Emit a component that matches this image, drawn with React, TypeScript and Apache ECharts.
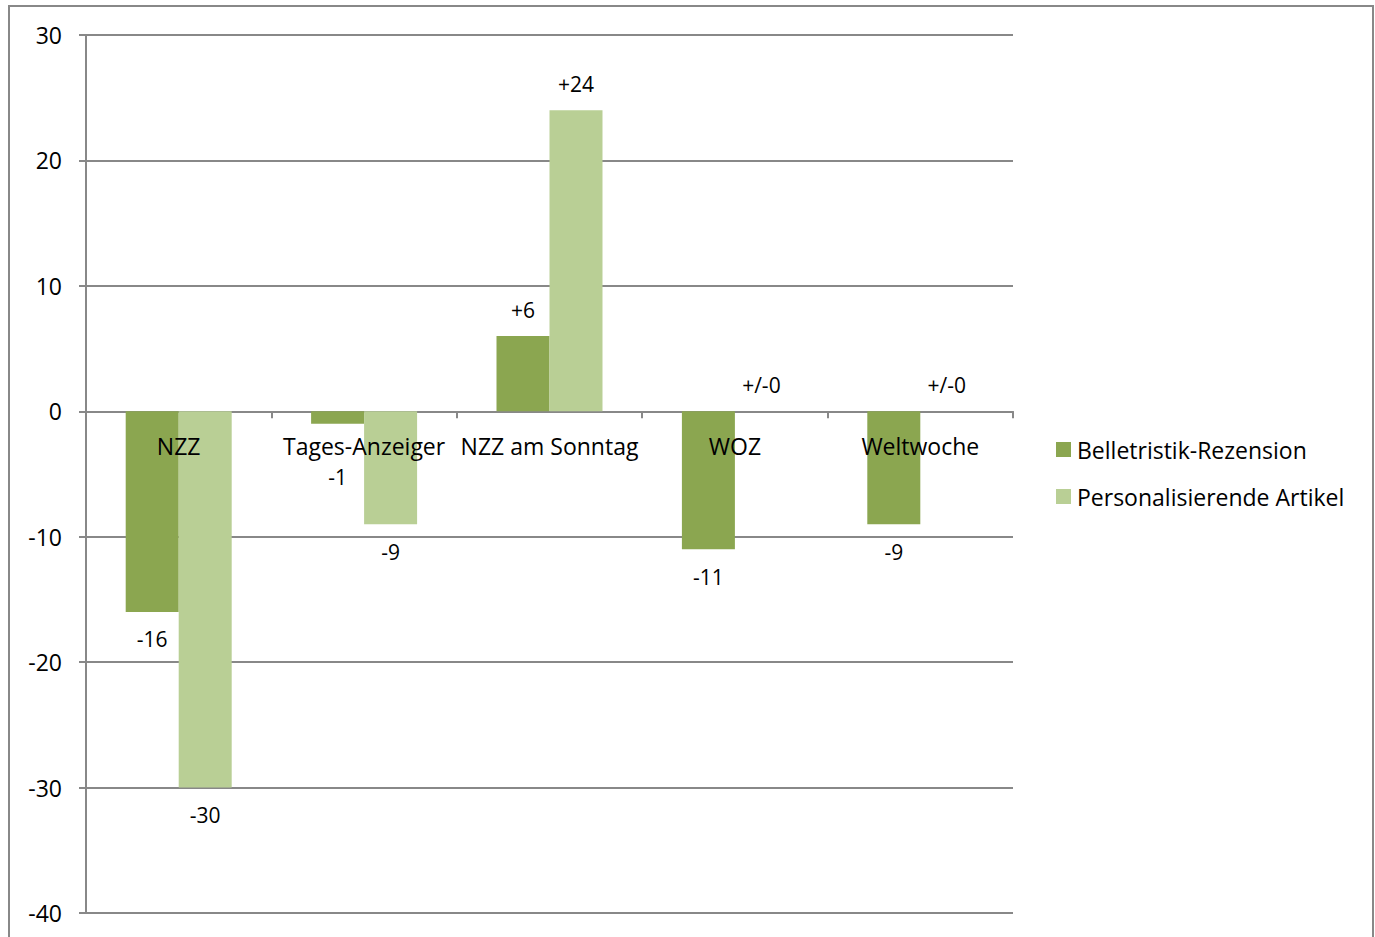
import React, { useEffect, useRef } from "react";
import * as echarts from "echarts";

const categories = ["NZZ", "Tages-Anzeiger", "NZZ am Sonntag", "WOZ", "Weltwoche"];
const belletristik = [-16, -1, 6, -11, -9];
const personalisierend = [-30, -9, 24, 0, 0];
const seriesNames = ["Belletristik-Rezension", "Personalisierende Artikel"];
const yTicks = { min: -40, max: 30, interval: 10 };

const FONT = "'Open Sans', 'Noto Sans', sans-serif";

function fmt(v: number) {
  if (v === 0) return "+/-0";
  return v > 0 ? "+" + v : String(v);
}

function buildData(values: number[], extraDist: number[]) {
  return values.map((v, i) => ({
    value: v,
    label: {
      position: v < 0 ? "bottom" : "top",
      distance: (v < 0 ? 17 : 16) + (extraDist[i] || 0),
    },
  }));
}

export default function App() {
  const ref = useRef<HTMLDivElement>(null);
  useEffect(() => {
    document.body.style.margin = "0";
    if (!ref.current) return;
    const chart = echarts.init(ref.current, null, { renderer: "svg" });
    const labelStyle = {
      show: true,
      color: "#000",
      fontSize: 21,
      fontFamily: FONT,
      formatter: (p: any) => fmt(p.value),
    };
    const gridTop = 35;
    const gridBottom = 24;
    const plotH = 937 - gridTop - gridBottom;
    const zeroY = gridTop + (plotH * yTicks.max) / (yTicks.max - yTicks.min);
    const labelOffset = -(937 - gridBottom - zeroY);
    chart.setOption({
      animation: false,
      backgroundColor: "#fff",
      textStyle: { fontFamily: FONT },
      graphic: [
        {
          type: "rect",
          shape: { x: 9, y: 6, width: 1364, height: 1000 },
          style: { fill: "none", stroke: "#888", lineWidth: 2 },
          silent: true,
        },
      ],
      grid: { left: 86, right: 362, top: gridTop, bottom: gridBottom, outerBoundsMode: "none", containLabel: false },
      legend: {
        orient: "vertical",
        left: 1056,
        top: 438,
        padding: 0,
        itemWidth: 15,
        itemHeight: 15,
        itemGap: 24,
        icon: "rect",
        textStyle: { color: "#000", fontSize: 23, lineHeight: 23, fontFamily: FONT, padding: [0, 0, 0, 1] },
        data: seriesNames,
      },
      xAxis: [
        {
          type: "category",
          data: categories,
          axisLine: { onZero: true, lineStyle: { color: "#888", width: 2 } },
          axisTick: { show: true, length: 7, lineStyle: { color: "#888", width: 2 } },
          axisLabel: { show: false },
          splitLine: { show: false },
        },
        {
          type: "category",
          data: categories,
          position: "bottom",
          offset: labelOffset,
          z: 10,
          axisLine: { show: false, onZero: false },
          axisTick: { show: false },
          axisLabel: { color: "#000", fontSize: 23, fontFamily: FONT, margin: 23, interval: 0 },
          splitLine: { show: false },
        },
      ],
      yAxis: {
        type: "value",
        min: yTicks.min,
        max: yTicks.max,
        interval: yTicks.interval,
        axisLine: { show: true, lineStyle: { color: "#888", width: 2 } },
        axisTick: { show: true, length: 7, lineStyle: { color: "#888", width: 2 } },
        axisLabel: { color: "#000", fontSize: 23, fontFamily: FONT, margin: 24 },
        splitLine: { show: true, lineStyle: { color: "#888", width: 2 } },
      },
      series: [
        {
          name: seriesNames[0],
          type: "bar",
          barWidth: 53,
          barGap: "0%",
          itemStyle: { color: "#8BA650" },
          label: labelStyle,
          data: buildData(belletristik, [0, 26, 0, 0, 0]),
        },
        {
          name: seriesNames[1],
          type: "bar",
          barWidth: 53,
          barGap: "0%",
          itemStyle: { color: "#B9CF95" },
          label: labelStyle,
          data: buildData(personalisierend, [0, 0, 0, 0, 0]),
        },
      ],
    });
    return () => chart.dispose();
  }, []);
  return <div ref={ref} style={{ width: 1375, height: 937 }} />;
}
